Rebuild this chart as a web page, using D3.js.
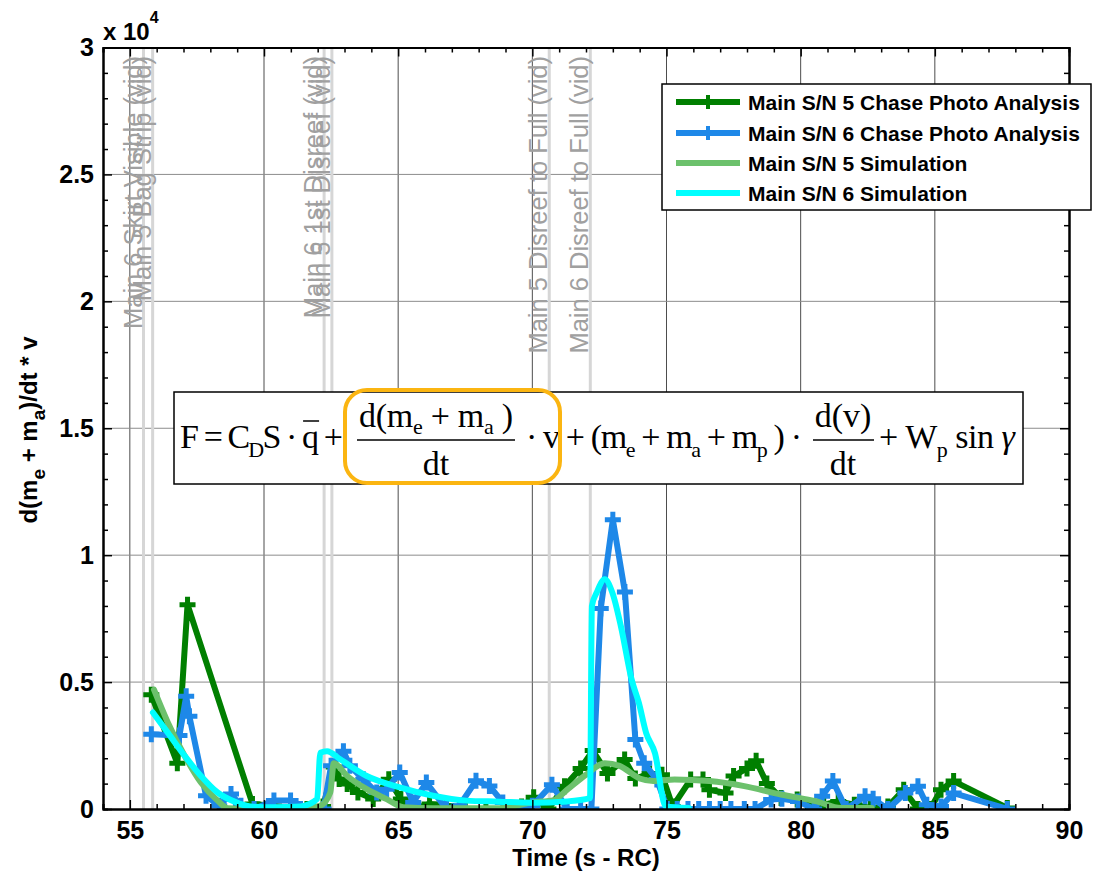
<!DOCTYPE html>
<html>
<head>
<meta charset="utf-8">
<script src="https://cdnjs.cloudflare.com/ajax/libs/d3/7.8.5/d3.min.js"></script>
<style>
  body { margin: 0; background: #fff; }
  svg { font-family: "Liberation Sans", Arial, sans-serif; }
  .tick text { font-weight: bold; font-size: 25px; fill: #000; }
  text { white-space: pre; }
</style>
</head>
<body>
<svg id="mainsvg" width="1094" height="880"></svg>
<script>
// ---- data (values in units of 1e4) ----
var chase5T = [55.8, 56.77, 57.15, 59.57, 60.37, 61.0, 61.6, 62.2, 62.6, 62.8, 63.1, 63.5, 64.07, 64.65, 65.1, 65.56, 66.17, 66.8, 67.5, 68.27, 69.0, 69.6, 70.05, 70.6, 71.2, 71.8, 72.25, 72.8, 73.44, 73.84, 74.37, 74.83, 75.23, 75.9, 76.36, 76.6, 77.2, 77.5, 78.0, 78.34, 78.74, 79.27, 79.87, 80.46, 80.86, 81.4, 82.0, 82.6, 83.25, 83.84, 84.37, 84.83, 85.23, 85.7, 87.7];
var chase5Y = [0.45, 0.18, 0.805, 0.02, 0.012, 0, 0, 0.01, 0.165, 0.118, 0.098, 0.065, 0.039, 0.117, 0.039, 0, 0.02, 0.013, 0, 0, 0, 0.01, 0.046, 0, 0.09, 0.16, 0.23, 0.14, 0.195, 0.12, 0.14, 0.135, 0.01, 0.116, 0.116, 0.076, 0.063, 0.13, 0.16, 0.19, 0.1, 0.043, 0.037, 0.01, 0.017, 0.03, 0.017, 0.004, 0.01, 0.076, 0, 0, 0.076, 0.11, 0.004];

var chase6T = [55.8, 56.85, 57.1, 57.22, 57.84, 58.33, 58.77, 59.14, 59.63, 60.37, 60.99, 61.36, 61.85, 62.22, 62.5, 62.96, 63.2, 63.7, 64.2, 64.57, 65.06, 65.56, 66.05, 66.8, 67.28, 67.9, 68.4, 68.9, 69.63, 70.0, 70.73, 71.3, 71.8, 72.2, 72.55, 73.0, 73.45, 73.84, 74.17, 74.64, 75.03, 75.4, 75.8, 76.2, 76.6, 77.0, 77.4, 77.9, 78.3, 78.9, 79.3, 79.9, 80.5, 80.8, 81.2, 81.7, 82.4, 82.7, 83.25, 83.9, 84.37, 84.7, 85.23, 85.7, 87.7];
var chase6Y = [0.294, 0.29, 0.444, 0.365, 0.052, 0.013, 0.059, 0.013, 0, 0.033, 0.033, 0, 0, 0, 0.17, 0.228, 0.17, 0.117, 0.065, 0.078, 0.144, 0.026, 0.104, 0, 0.013, 0.111, 0.091, 0.026, 0, 0.013, 0.096, 0, 0, 0, 0.79, 1.14, 0.855, 0.274, 0.18, 0.116, 0, 0, 0, 0, 0, 0, 0, 0, 0, 0.037, 0.04, 0.03, 0, 0.05, 0.11, 0, 0.05, 0.04, 0, 0.063, 0.09, 0.017, 0.01, 0.063, 0];

var sim5T = [55.9, 56.42, 57.04, 57.65, 58.27, 58.64, 59.63, 61.36, 62.1, 62.47, 62.6, 63.1, 63.83, 64.57, 65.19, 66.3, 68.77, 70.0, 70.8, 71.3, 72.0, 72.7, 73.25, 74.0, 74.5, 75.3, 76.6, 77.9, 79.27, 80.6, 81.5, 82.65];
var sim5Y = [0.47, 0.34, 0.21, 0.104, 0.033, 0.003, 0, 0, 0.013, 0.065, 0.18, 0.13, 0.078, 0.039, 0.007, 0.003, 0.003, 0.026, 0.035, 0.076, 0.135, 0.18, 0.17, 0.12, 0.11, 0.116, 0.11, 0.09, 0.057, 0.03, 0.004, 0.004];

var sim6T = [55.86, 56.42, 57.04, 57.65, 58.27, 58.9, 59.5, 60.37, 61.36, 61.98, 62.1, 62.35, 62.84, 63.83, 65.06, 66.3, 67.53, 68.77, 70.0, 71.3, 72.15, 72.22, 72.4, 72.7, 72.98, 73.3, 73.7, 73.97, 74.24, 74.57, 74.97, 75.83];
var sim6Y = [0.38, 0.3, 0.21, 0.13, 0.065, 0.029, 0.01, 0.007, 0.01, 0.039, 0.222, 0.228, 0.196, 0.13, 0.085, 0.052, 0.033, 0.029, 0.025, 0.03, 0.043, 0.8, 0.853, 0.905, 0.853, 0.72, 0.51, 0.418, 0.3, 0.22, 0.01, 0.004];

var eventNames = ["Main 6 Skirt Visible (vid)", "Main 5 Bag Strip (vid)", "Main 6 1st Disreef (vid)", "Main 5 1st Disreef (vid)", "Main 5 Disreef to Full (vid)", "Main 6 Disreef to Full (vid)"];
var eventTimes = [55.51, 55.85, 62.24, 62.53, 70.63, 72.16];

var legendLabels = ["Main S/N 5 Chase Photo Analysis", "Main S/N 6 Chase Photo Analysis", "Main S/N 5 Simulation", "Main S/N 6 Simulation"];
var xTicks = [55, 60, 65, 70, 75, 80, 85, 90];
var yTicks = [0, 0.5, 1, 1.5, 2, 2.5, 3];

var series = [
  { name: legendLabels[0], t: chase5T, v: chase5Y, color: "#007f00", marker: true, curve: d3.curveLinear },
  { name: legendLabels[1], t: chase6T, v: chase6Y, color: "#1e88e8", marker: true, curve: d3.curveLinear },
  { name: legendLabels[2], t: sim5T, v: sim5Y, color: "#6cc16c", marker: false, curve: d3.curveMonotoneX },
  { name: legendLabels[3], t: sim6T, v: sim6Y, color: "#00ffff", marker: false, curve: d3.curveMonotoneX }
];

// ---- layout ----
var svg = d3.select("#mainsvg");
var pLeft = 103, pRight = 1069, pTop = 47.5, pBottom = 809;

var x = d3.scaleLinear().domain([54, 90]).range([pLeft, pRight]);
var y = d3.scaleLinear().domain([0, 3]).range([pBottom, pTop]);

svg.append("defs").append("clipPath").attr("id", "plotclip")
  .append("rect").attr("x", pLeft).attr("y", pTop).attr("width", pRight - pLeft).attr("height", pBottom - pTop);

// grid
var grid = svg.append("g").attr("class", "grid");
grid.selectAll("line.vg").data(xTicks.slice(0, -1)).enter().append("line")
  .attr("x1", d => x(d)).attr("x2", d => x(d)).attr("y1", pTop).attr("y2", pBottom)
  .attr("stroke", "#4d4d4d").attr("stroke-width", 1);
grid.selectAll("line.hg").data(yTicks.slice(1, -1)).enter().append("line")
  .attr("x1", pLeft).attr("x2", pRight).attr("y1", d => y(d)).attr("y2", d => y(d))
  .attr("stroke", "#8c8c8c").attr("stroke-width", 1);

// event lines + labels
var ev = svg.append("g").attr("class", "events");
ev.selectAll("line").data(eventTimes).enter().append("line")
  .attr("x1", d => x(d)).attr("x2", d => x(d)).attr("y1", pTop).attr("y2", pBottom)
  .attr("stroke", "#d6d6d6").attr("stroke-width", 3);
ev.selectAll("text").data(eventNames).enter().append("text")
  .attr("transform", (d, i) => "translate(" + (x(eventTimes[i]) - 2) + "," + 56 + ") rotate(-90)")
  .attr("text-anchor", "end")
  .attr("font-size", "25.5px")
  .attr("fill", "#a0a0a0")
  .text(d => d);

// data lines
var plot = svg.append("g").attr("clip-path", "url(#plotclip)");
series.forEach(function(s) {
  var pts = s.t.map((t, i) => [t, s.v[i]]);
  var line = d3.line().x(d => x(d[0])).y(d => y(d[1])).curve(s.curve);
  plot.append("path").datum(pts)
    .attr("d", line)
    .attr("fill", "none")
    .attr("stroke", s.color)
    .attr("stroke-width", 6)
    .attr("stroke-linejoin", "round")
    .attr("stroke-linecap", "round");
  if (s.marker) {
    plot.append("g").selectAll("path").data(pts).enter().append("path")
      .attr("d", d => {
        var cx = x(d[0]), cy = y(d[1]), r = 8;
        return "M" + (cx - r) + "," + cy + "H" + (cx + r) + "M" + cx + "," + (cy - r) + "V" + (cy + r);
      })
      .attr("stroke", s.color)
      .attr("stroke-width", 5);
  }
});

// axes (ticks inside, on all four sides)
function styleAxis(g) {
  g.select(".domain").attr("stroke", "#000").attr("stroke-width", 2);
  g.selectAll(".tick line").attr("stroke", "#000").attr("stroke-width", 1.5);
}
var minorX = d3.range(54, 91).filter(d => d % 5 !== 0);
var minorY = d3.range(0, 31).map(d => d / 10).filter((d, i) => i % 5 !== 0);

svg.append("g").attr("transform", "translate(0," + pBottom + ")")
  .call(d3.axisBottom(x).tickValues(xTicks).tickSizeInner(-9).tickSizeOuter(0).tickPadding(12).tickFormat(d3.format("d")))
  .call(styleAxis);
svg.append("g").attr("transform", "translate(0," + pBottom + ")")
  .call(d3.axisBottom(x).tickValues(minorX).tickSize(-5).tickFormat(""))
  .call(styleAxis);
svg.append("g").attr("transform", "translate(0," + pTop + ")")
  .call(d3.axisTop(x).tickValues(xTicks).tickSizeInner(-9).tickSizeOuter(0).tickFormat(""))
  .call(styleAxis);
svg.append("g").attr("transform", "translate(0," + pTop + ")")
  .call(d3.axisTop(x).tickValues(minorX).tickSize(-5).tickFormat(""))
  .call(styleAxis);
svg.append("g").attr("transform", "translate(" + pLeft + ",0)")
  .call(d3.axisLeft(y).tickValues(yTicks).tickSizeInner(-9).tickSizeOuter(0).tickPadding(9).tickFormat(d => String(d)))
  .call(styleAxis);
svg.append("g").attr("transform", "translate(" + pLeft + ",0)")
  .call(d3.axisLeft(y).tickValues(minorY).tickSize(-5).tickFormat(""))
  .call(styleAxis);
svg.append("g").attr("transform", "translate(" + pRight + ",0)")
  .call(d3.axisRight(y).tickValues(yTicks).tickSizeInner(-9).tickSizeOuter(0).tickFormat(""))
  .call(styleAxis);
svg.append("g").attr("transform", "translate(" + pRight + ",0)")
  .call(d3.axisRight(y).tickValues(minorY).tickSize(-5).tickFormat(""))
  .call(styleAxis);

// exponent label
var ex = svg.append("text").attr("x", pLeft).attr("y", 40)
  .attr("font-weight", "bold").attr("font-size", "24px");
ex.append("tspan").text("x 10");
ex.append("tspan").attr("dy", -17).attr("font-size", "16px").text("4");

// axis labels
svg.append("text").attr("x", (pLeft + pRight) / 2).attr("y", 866)
  .attr("text-anchor", "middle").attr("font-weight", "bold").attr("font-size", "24px")
  .text("Time (s - RC)");

function mathText(g, px, py, parts, size, subSize, shift, anchor, len) {
  var t = g.append("text").attr("x", px).attr("y", py).attr("text-anchor", anchor || "start");
  if (len) t.attr("textLength", len).attr("lengthAdjust", "spacing");
  var cur = 0;
  parts.forEach(function(p) {
    var target = p[1] ? shift : 0;
    var sp = t.append("tspan").attr("dy", target - cur).attr("font-size", (p[1] ? subSize : size) + "px").text(p[0]);
    if (p[2]) sp.attr("font-style", "italic");
    cur = target;
  });
  return t;
}

var yl = svg.append("g").attr("transform", "translate(37,430) rotate(-90)")
  .attr("font-weight", "bold");
mathText(yl, 0, 0, [["d(m"], ["e", 1], [" + m"], ["a", 1], [")/dt * v"]], 24, 19, 8, "middle");

// equation annotation
var eq = svg.append("g").attr("class", "equation")
  .style("font-family", '"Liberation Serif", "Times New Roman", serif');
eq.append("rect").attr("x", 174).attr("y", 392).attr("width", 849).attr("height", 92)
  .attr("fill", "#fff").attr("stroke", "#000").attr("stroke-width", 1.5);

var ta = mathText(eq, 180, 448, [["F = C"], ["D", 1], ["S · q +"]], 34, 22, 9, "start", 163);
var qi = "F = CDS · ".length;
var qb = ta.node().getExtentOfChar(qi);
eq.append("line").attr("x1", qb.x + 1).attr("x2", qb.x + qb.width).attr("y1", 421).attr("y2", 421)
  .attr("stroke", "#000").attr("stroke-width", 1.5);

mathText(eq, 436, 427, [["d(m"], ["e", 1], [" + m"], ["a", 1], [" )"]], 34, 22, 7, "middle", 154);
eq.append("line").attr("x1", 357).attr("x2", 515).attr("y1", 440).attr("y2", 440).attr("stroke", "#000").attr("stroke-width", 1.5);
mathText(eq, 436, 475, [["dt"]], 34, 22, 0, "middle");

mathText(eq, 526, 448, [["· v + (m"], ["e", 1], [" + m"], ["a", 1], [" + m"], ["p", 1], [" ) ·"]], 34, 22, 9, "start", 276);

mathText(eq, 843, 427, [["d(v)"]], 34, 22, 0, "middle");
eq.append("line").attr("x1", 813).attr("x2", 874).attr("y1", 440).attr("y2", 440).attr("stroke", "#000").attr("stroke-width", 1.5);
mathText(eq, 843, 475, [["dt"]], 34, 22, 0, "middle");

mathText(eq, 879, 448, [["+ W"], ["p", 1], [" sin "], ["γ", 0, 1]], 34, 22, 9, "start", 136);

eq.append("rect").attr("x", 345).attr("y", 390).attr("width", 215).attr("height", 93)
  .attr("rx", 22).attr("fill", "none").attr("stroke", "#fbb511").attr("stroke-width", 4);

// legend
var lg = svg.append("g").attr("class", "legend");
lg.append("rect").attr("x", 662).attr("y", 84).attr("width", 429).attr("height", 126)
  .attr("fill", "#fff").attr("stroke", "#000").attr("stroke-width", 1.5);
var rowY = [102, 133, 163, 193];
series.forEach(function(s, i) {
  var ry = rowY[i];
  lg.append("line").attr("x1", 676).attr("x2", 740).attr("y1", ry).attr("y2", ry)
    .attr("stroke", s.color).attr("stroke-width", 6);
  if (s.marker) {
    lg.append("path").attr("d", "M701," + ry + "H715M708," + (ry - 7) + "V" + (ry + 7))
      .attr("stroke", s.color).attr("stroke-width", 4);
  }
  lg.append("text").attr("x", 748).attr("y", ry + 7.5)
    .attr("font-weight", "bold").attr("font-size", "21px").text(s.name);
});
</script>
</body>
</html>
